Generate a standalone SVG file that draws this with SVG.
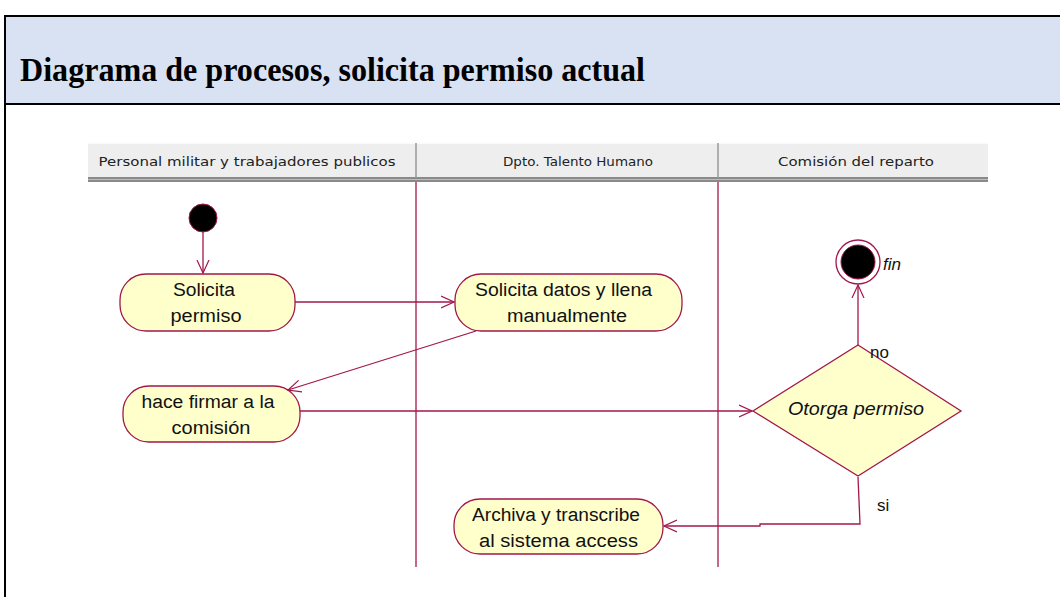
<svg xmlns="http://www.w3.org/2000/svg" width="1060" height="597" viewBox="0 0 1060 597">
<defs>
<style>
.ln{stroke:#A3174B;stroke-width:1.3;fill:none}
.act{fill:#FFFFCC;stroke:#A3174B;stroke-width:1.3}
.t{font-family:"Liberation Sans",Arial,sans-serif;font-size:18px;fill:#111;text-anchor:middle}
.lh{font-family:"DejaVu Sans",sans-serif;font-size:12.5px;fill:#222;text-anchor:middle}
</style>
<marker id="ar" viewBox="0 0 14 14" refX="13" refY="7" markerWidth="14" markerHeight="14" markerUnits="userSpaceOnUse" orient="auto">
<path d="M0,1 L13,7 L0,13" fill="none" stroke="#A3174B" stroke-width="1.2"/>
</marker>
</defs>
<rect width="1060" height="597" fill="#fff"/>
<rect x="5" y="16" width="1060" height="88" fill="#D9E2F3"/>
<line x1="4" y1="16" x2="1060" y2="16" stroke="#000" stroke-width="2"/>
<line x1="4" y1="104" x2="1060" y2="104" stroke="#000" stroke-width="2"/>
<line x1="5" y1="15" x2="5" y2="597" stroke="#000" stroke-width="2"/>
<text x="20" y="81" font-family="Liberation Serif,'Times New Roman',serif" font-size="33" font-weight="bold" fill="#000" textLength="625" lengthAdjust="spacingAndGlyphs">Diagrama de procesos, solicita permiso actual</text>

<g id="lanes">
<rect x="88" y="143" width="900" height="35" fill="#EEEEEE"/>
<line x1="88" y1="143.5" x2="988" y2="143.5" stroke="#fafafa"/>
<rect x="88" y="177" width="900" height="5" fill="#8a8a8a"/>
<line x1="88" y1="179.5" x2="988" y2="179.5" stroke="#bbb"/>
<line x1="416" y1="143" x2="416" y2="178" stroke="#999" stroke-width="1.5"/>
<line x1="718" y1="143" x2="718" y2="178" stroke="#999" stroke-width="1.5"/>
<text class="lh" x="247" y="166" textLength="297" lengthAdjust="spacingAndGlyphs">Personal militar y trabajadores publicos</text>
<text class="lh" x="578" y="166" textLength="150" lengthAdjust="spacingAndGlyphs">Dpto. Talento Humano</text>
<text class="lh" x="856" y="166" textLength="156" lengthAdjust="spacingAndGlyphs">Comisión del reparto</text>
<line class="ln" x1="416" y1="182" x2="416" y2="567"/>
<line class="ln" x1="718" y1="182" x2="718" y2="567"/>
</g>

<g id="start"><circle cx="203" cy="218" r="14" fill="#000" stroke="#A3174B" stroke-width="1"/></g>
<g id="end"><circle cx="858" cy="262" r="22" fill="#fff" stroke="#A3174B" stroke-width="1.3"/><circle cx="858" cy="262" r="17" fill="#000" stroke="#A3174B" stroke-width="1"/><text x="883" y="270" font-family="Liberation Sans,Arial,sans-serif" font-size="17" font-style="italic" fill="#111">fin</text></g>

<g id="n1"><rect class="act" x="120" y="274" width="175" height="57" rx="26"/><text class="t" x="204" y="296" textLength="62" lengthAdjust="spacingAndGlyphs">Solicita</text><text class="t" x="206" y="322" textLength="71" lengthAdjust="spacingAndGlyphs">permiso</text></g>
<g id="n2"><rect class="act" x="455" y="274" width="227" height="57" rx="26"/><text class="t" x="563.5" y="296" textLength="177" lengthAdjust="spacingAndGlyphs">Solicita datos y llena</text><text class="t" x="567" y="322" textLength="120" lengthAdjust="spacingAndGlyphs">manualmente</text></g>
<g id="n3"><rect class="act" x="123" y="386" width="177" height="56" rx="26"/><text class="t" x="208" y="408" textLength="133" lengthAdjust="spacingAndGlyphs">hace firmar a la</text><text class="t" x="211" y="434" textLength="79" lengthAdjust="spacingAndGlyphs">comisión</text></g>
<g id="n4"><polygon class="act" points="858,345 961,411 858,476 753,411"/><text x="856" y="415" font-family="Liberation Sans,Arial,sans-serif" font-size="18" font-style="italic" fill="#111" text-anchor="middle" textLength="136" lengthAdjust="spacingAndGlyphs">Otorga permiso</text></g>
<g id="n5"><rect class="act" x="454" y="499" width="209" height="55" rx="26"/><text class="t" x="556" y="521" textLength="168" lengthAdjust="spacingAndGlyphs">Archiva y transcribe</text><text class="t" x="558.5" y="547" textLength="159" lengthAdjust="spacingAndGlyphs">al sistema access</text></g>

<g id="connectors">
<line class="ln" x1="203" y1="232" x2="203" y2="273" marker-end="url(#ar)"/>
<line class="ln" x1="295" y1="302" x2="454" y2="302" marker-end="url(#ar)"/>
<line class="ln" x1="476" y1="331" x2="288" y2="390" marker-end="url(#ar)"/>
<line class="ln" x1="300" y1="411" x2="752" y2="411" marker-end="url(#ar)"/>
<line class="ln" x1="858" y1="345" x2="858" y2="285" marker-end="url(#ar)"/>
<polyline class="ln" points="858,477 860,524 760,524 760,526 664,526" marker-end="url(#ar)"/>
<text x="870" y="358" font-family="Liberation Sans,Arial,sans-serif" font-size="17" fill="#111">no</text>
<text x="877" y="511" font-family="Liberation Sans,Arial,sans-serif" font-size="17" fill="#111">si</text>
</g>
</svg>
